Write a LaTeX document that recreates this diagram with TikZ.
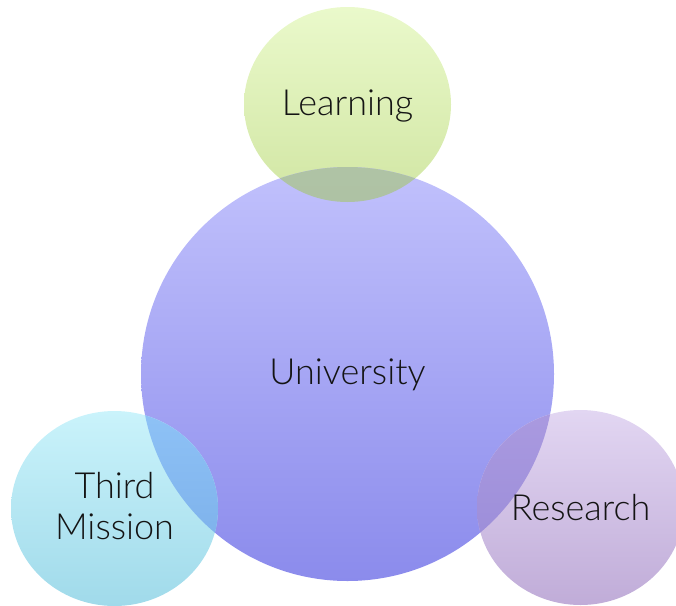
\documentclass[tikz,border=0pt]{standalone}
\usepackage{fontspec}
\setmainfont{Lato Light}
\usetikzlibrary{shapes.geometric}
\definecolor{lrnT}{RGB}{234,249,203}
\definecolor{lrnB}{RGB}{209,230,163}
\definecolor{uniT}{RGB}{193,193,252}
\definecolor{uniB}{RGB}{139,139,236}
\definecolor{thdT}{RGB}{202,243,251}
\definecolor{thdB}{RGB}{160,218,234}
\definecolor{resT}{RGB}{226,214,242}
\definecolor{resB}{RGB}{192,172,216}
\definecolor{olLT}{RGB}{182,200,170}
\definecolor{olLB}{RGB}{174,194,164}
\definecolor{olTT}{RGB}{142,194,246}
\definecolor{olTB}{RGB}{118,170,230}
\definecolor{olRT}{RGB}{170,154,224}
\definecolor{olRB}{RGB}{150,136,214}
\tikzset{
  blob/.style={ellipse, inner sep=0pt, draw=none, shading=axis, shading angle=0},
  lbl/.style={font=\fontsize{36}{41}\selectfont, text=black!92, align=center, inner sep=0pt}
}
\begin{document}
\begin{tikzpicture}[x=1pt,y=-1pt]
\useasboundingbox (0,0) rectangle (676,605);
\clip (0,0) rectangle (676,605);
% shapes
\node[blob, minimum width=207pt, minimum height=195pt, top color=lrnT, bottom color=lrnB] (lshape) at (347.5,104.5) {};
\node[blob, minimum width=413pt, minimum height=414pt, top color=uniT, bottom color=uniB] (ushape) at (347.5,374) {};
\node[blob, minimum width=207pt, minimum height=195pt, top color=thdT, bottom color=thdB] (tshape) at (114.5,508.5) {};
\node[blob, minimum width=207pt, minimum height=195pt, top color=resT, bottom color=resB] (rshape) at (580.5,507.5) {};
% overlaps
\begin{scope}
  \clip (ushape.center) ellipse [x radius=206.5pt, y radius=207pt];
  \shade[top color=olLT, bottom color=olLB] (lshape.center) ellipse [x radius=103.5pt, y radius=97.5pt];
  \shade[top color=olTT, bottom color=olTB] (tshape.center) ellipse [x radius=103.5pt, y radius=97.5pt];
  \shade[top color=olRT, bottom color=olRB] (rshape.center) ellipse [x radius=103.5pt, y radius=97.5pt];
\end{scope}
% labels
\node[lbl] (learning) at ([yshift=-1pt]lshape.center) {Learning};
\node[lbl] (university) at ([yshift=-1pt]ushape.center) {University};
\node[lbl] (third) at ([yshift=2pt]tshape.center) {Third\\Mission};
\node[lbl] (research) at (rshape.center) {Research};
\end{tikzpicture}
\end{document}
